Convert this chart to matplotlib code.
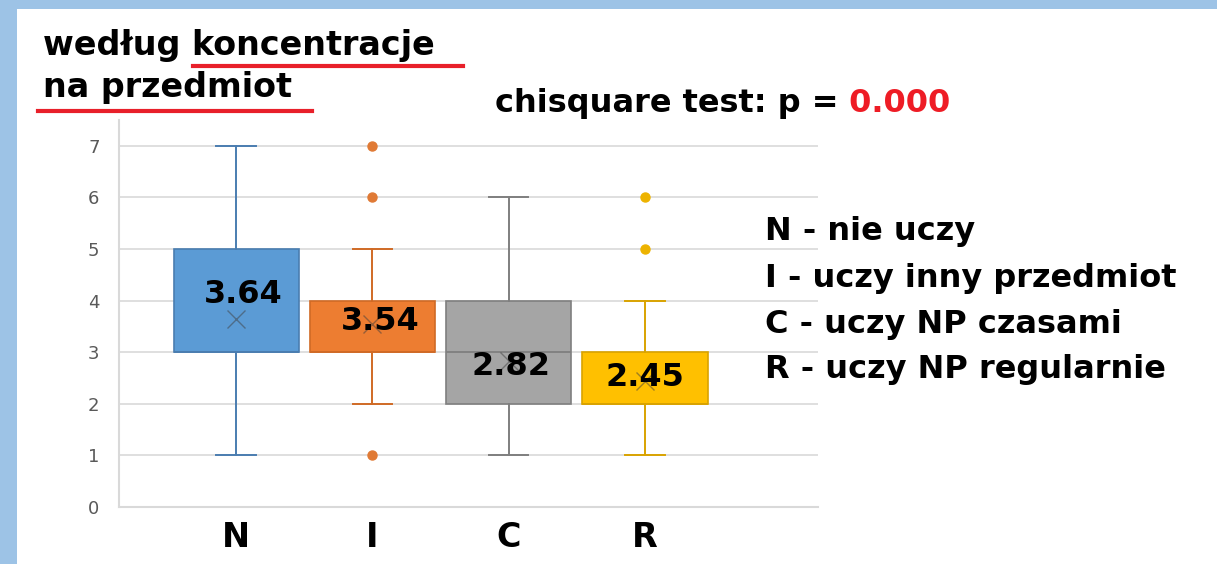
import matplotlib
matplotlib.use("Agg")
import matplotlib.pyplot as plt
from matplotlib.lines import Line2D
from matplotlib.patches import Rectangle

# box plot summary
groups = ['N', 'I', 'C', 'R']
q1 = [3, 3, 2, 2]
med = [3, 3, 3, 2]
q3 = [5, 4, 4, 3]
whislo = [1, 2, 1, 1]
whishi = [7, 5, 6, 4]
means = [3.64, 3.54, 2.82, 2.45]
fliers = [[], [1, 6, 7], [], [5, 6]]

legend_lines = ['N - nie uczy', 'I - uczy inny przedmiot',
                'C - uczy NP czasami', 'R - uczy NP regularnie']
title_1 = 'według koncentracje'
title_2 = 'na przedmiot'
test_text = 'chisquare test: p ='
p_value = '0.000'

fill_colors = ['#5B9BD5', '#ED7D31', '#A5A5A5', '#FFC000']
edge_colors = ['#4A7DB0', '#D06A25', '#7F7F7F', '#D9A300']
flier_colors = ['#5B9BD5', '#E07A35', '#A5A5A5', '#EDB300']

W, H = 1217, 564
fig = plt.figure(figsize=(W / 100, H / 100), dpi=100, facecolor='#9DC3E6')
fig.patches.append(Rectangle((17 / W, 0), 1, 1 - 9 / H, transform=fig.transFigure,
                             facecolor='white', edgecolor='none', zorder=-5))

ax = fig.add_axes([119 / W, 1 - 507 / H, (818 - 119) / W, (507 - 120) / H])
ax.set_facecolor('none')

stats = []
for i, g in enumerate(groups):
    stats.append(dict(label=g, q1=q1[i], med=med[i], q3=q3[i], whislo=whislo[i],
                      whishi=whishi[i], mean=means[i], fliers=fliers[i]))

positions = list(range(1, len(groups) + 1))
res = ax.bxp(stats, positions=positions, widths=0.92, capwidths=0.29,
             patch_artist=True, showmeans=True, showfliers=True,
             meanprops=dict(marker='x', markersize=13, markeredgecolor='#404040',
                            markeredgewidth=1, alpha=0.5),
             zorder=3)

for i in range(len(groups)):
    res['boxes'][i].set_facecolor(fill_colors[i])
    res['boxes'][i].set_edgecolor(edge_colors[i])
    res['boxes'][i].set_linewidth(1.2)
    res['medians'][i].set_color(edge_colors[i])
    res['medians'][i].set_linewidth(1.3)
    for ln in res['whiskers'][2 * i:2 * i + 2] + res['caps'][2 * i:2 * i + 2]:
        ln.set_color(edge_colors[i])
        ln.set_linewidth(1.4)
    res['fliers'][i].set_marker('o')
    res['fliers'][i].set_markerfacecolor(flier_colors[i])
    res['fliers'][i].set_markeredgecolor(flier_colors[i])
    res['fliers'][i].set_markersize(6.5)

# mean value labels, nudged like the excel data labels
label_dy = [0.47, 0.05, -0.09, 0.06]
label_dx = [0.05, 0.06, 0.02, 0.0]
for i, m in enumerate(means):
    ax.text(positions[i] + label_dx[i], m + label_dy[i], f'{m:.2f}', ha='center', va='center',
            fontsize=23, fontweight='bold', color='black', zorder=5)

ax.set_xlim(0.14, 5.27)
ax.set_ylim(0, 7.5)
ax.set_yticks(range(0, 8))
ax.set_xticks(positions)
ax.set_xticklabels(groups, fontsize=24, fontweight='bold')
ax.tick_params(axis='y', length=0, pad=14, labelsize=13, labelcolor='#595959')
ax.tick_params(axis='x', length=0, pad=10)
ax.yaxis.grid(True, color='#D9D9D9', linewidth=1.2, zorder=0)
ax.set_axisbelow(True)
for s in ['top', 'right']:
    ax.spines[s].set_visible(False)
for s in ['left', 'bottom']:
    ax.spines[s].set_color('#D9D9D9')
    ax.spines[s].set_linewidth(1.5)

# titles and notes
fig.text(43 / W, 1 - 55 / H, title_1, fontsize=24, fontweight='bold', va='baseline')
fig.text(43 / W, 1 - 97 / H, title_2, fontsize=24, fontweight='bold', va='baseline')
fig.add_artist(Line2D([193 / W, 463 / W], [1 - 66 / H] * 2, color='#E8202A', lw=3,
                      transform=fig.transFigure))
fig.add_artist(Line2D([38 / W, 312 / W], [1 - 111 / H] * 2, color='#E8202A', lw=3,
                      transform=fig.transFigure))

t = fig.text(495 / W, 1 - 112 / H, test_text, fontsize=23, fontweight='bold', va='baseline')
fig.add_artist(plt.Annotation(' ' + p_value, xy=(1, 0), xycoords=t, va='bottom', ha='left',
                              fontsize=23, fontweight='bold', color='#EE1C25',
                              annotation_clip=False))

baselines = [240, 287, 333, 378]
for line, yb in zip(legend_lines, baselines):
    fig.text(765 / W, 1 - yb / H, line, fontsize=23, fontweight='bold', va='baseline')

fig.savefig('out.png', dpi=100, facecolor=fig.get_facecolor())
